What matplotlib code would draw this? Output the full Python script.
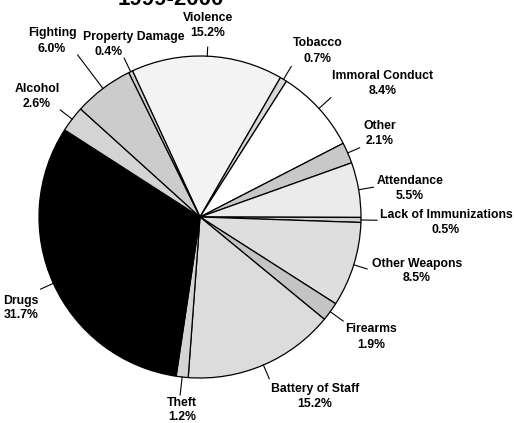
import numpy as np
import matplotlib
matplotlib.use("Agg")
import matplotlib.pyplot as plt

plt.rcParams['font.family'] = ['Liberation Sans', 'DejaVu Sans']

# incident categories, clockwise starting at Violence
categories = ['Violence', 'Tobacco', 'Immoral Conduct', 'Other', 'Attendance',
              'Lack of Immunizations', 'Other Weapons', 'Firearms',
              'Battery of Staff', 'Theft', 'Drugs', 'Alcohol', 'Fighting',
              'Property Damage']
percents = [15.2, 0.7, 8.4, 2.1, 5.5, 0.5, 8.5, 1.9, 15.2, 1.2, 31.7, 2.6, 6.0, 0.4]
title = '1999-2000'

fills = ['#f3f3f3', '#d8d8d8', '#ffffff', '#c8c8c8', '#ebebeb', '#d0d0d0',
         '#dedede', '#c4c4c4', '#dcdcdc', '#d4d4d4', '#000000', '#d4d4d4',
         '#cccccc', '#d0d0d0']

W, H = 514, 423
cx, cy, R = 200, 217, 161  # pie centre / radius in pixels (y down)

# label layout in pixels: (text x, first line y, second line x, second line y, leader length)
label_pos = {
    'Violence': (208, 18, 208, 33, 9),
    'Tobacco': (318, 43, 318, 59, 15),
    'Immoral Conduct': (383, 76, 383, 91, 16),
    'Other': (380, 126, 380, 141, 13),
    'Attendance': (410, 181, 410, 196, 15),
    'Lack of Immunizations': (446, 215, 446, 230, 16),
    'Other Weapons': (417, 264, 417, 278, 14),
    'Firearms': (371, 329, 371, 345, 16),
    'Battery of Staff': (315, 389, 315, 404, 15),
    'Theft': (182, 403, 182, 417, 18),
    'Drugs': (21, 301, 21, 315, 14),
    'Alcohol': (37, 89, 37, 104, 15),
    'Fighting': (52, 33, 52, 49, 42),
    'Property Damage': (134, 37, 109, 52, 15),
}

fig = plt.figure(figsize=(W / 100, H / 100), dpi=100)
ax = fig.add_axes([0, 0, 1, 1])
ax.set_xlim(0, W)
ax.set_ylim(0, H)
ax.set_aspect('equal')
ax.axis('off')

start = 114.8
wedges, _ = ax.pie(percents, colors=fills, startangle=start, counterclock=False,
                   center=(cx, H - cy), radius=R,
                   wedgeprops=dict(edgecolor='black', linewidth=0.9))
ax.set_xlim(0, W)
ax.set_ylim(0, H)

fs = 8.8
for w, name, pct in zip(wedges, categories, percents):
    mid = np.deg2rad((w.theta1 + w.theta2) / 2)
    tx, ty, px2, py2, ext = label_pos[name]
    x0 = cx + R * np.cos(mid)
    y0 = (H - cy) + R * np.sin(mid)
    x1 = cx + (R + ext) * np.cos(mid)
    y1 = (H - cy) + (R + ext) * np.sin(mid)
    ax.plot([x0, x1], [y0, y1], color='black', linewidth=0.8)
    ax.text(tx, H - ty, name, ha='center', va='center', fontsize=fs,
            fontweight='bold')
    ax.text(px2, H - py2, f'{pct:.1f}%', ha='center', va='center', fontsize=fs,
            fontweight='bold')

ax.text(171, H - 5, title, ha='center', va='baseline', fontsize=16,
        fontweight='bold')

fig.savefig('out.png', dpi=100)
